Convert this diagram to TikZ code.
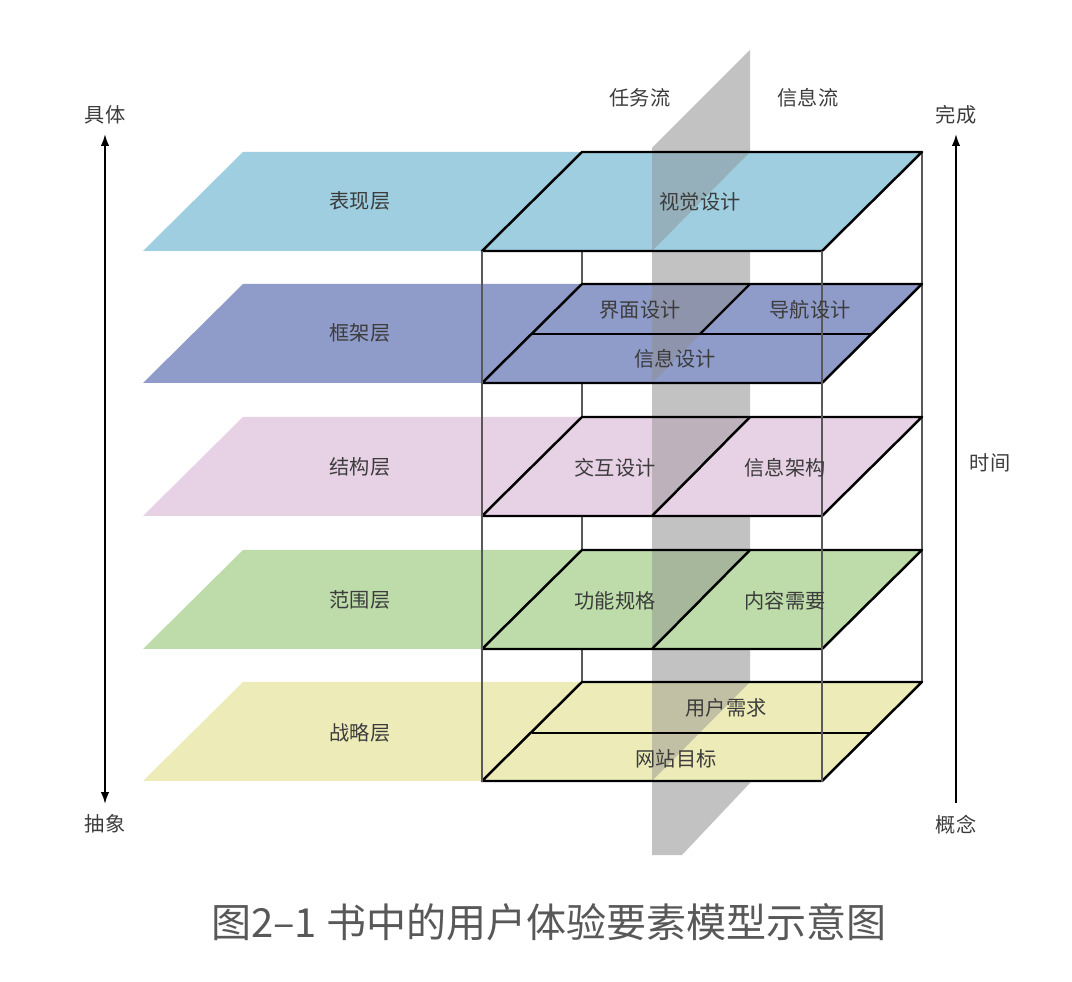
\documentclass[tikz,border=0pt]{standalone}
\usepackage{fontspec}
\newfontfamily\cjk{Noto Sans CJK SC}
\usetikzlibrary{arrows.meta}
\definecolor{surfacec}{RGB}{158,206,224}
\definecolor{skeletonc}{RGB}{143,155,200}
\definecolor{structurec}{RGB}{231,209,229}
\definecolor{scopec}{RGB}{189,220,170}
\definecolor{strategyc}{RGB}{237,236,184}
\definecolor{planec}{RGB}{194,194,194}
\definecolor{textc}{RGB}{60,60,60}
\definecolor{captionc}{RGB}{88,88,88}
\tikzset{
  plate/.style={line width=1.4pt, draw=black, line join=round},
  boxedge/.style={line width=0.8pt, draw=black!65},
  shadow/.style={fill=black!45, fill opacity=0.45},
  lbl/.style={font=\cjk\fontsize{11.5}{13}\selectfont, text=textc, inner sep=0pt},
  axis/.style={line width=1.1pt, draw=black, >={Latex[length=2.4mm,width=1.7mm]}}
}
\begin{document}
\begin{tikzpicture}[x=0.02cm,y=-0.02cm]
\useasboundingbox (0,0) rectangle (1072,982);
% the vertical plane between the two flows
\fill[planec] (652,148) -- (750,50) -- (750,783) -- (682,855) -- (652,855) -- cycle;
% back edges of the box
\draw[boxedge] (582,152) -- (582,682);
\draw[boxedge] (922,152) -- (922,682);
% five layers
\foreach \t/\c in {152/surfacec,284/skeletonc,417/structurec,550/scopec,682/strategyc}{
  \pgfmathsetmacro\bt{\t+99}
  \fill[\c] (143,\bt) -- (243,\t) -- (922,\t) -- (822,\bt) -- cycle;
  \fill[shadow] (652,\t) -- (750,\t) -- (652,\bt) -- cycle;
  \draw[plate] (482,\bt) -- (582,\t) -- (922,\t) -- (822,\bt) -- cycle;
}
% dividers inside the layers
\draw[plate] (750,284) -- (700,334);
\draw[plate] (532,334) -- (872,334);
\draw[plate] (750,417) -- (652,516);
\draw[plate] (750,550) -- (652,649);
\draw[plate] (532,733) -- (872,733);
% front edges of the box
\draw[boxedge] (482,251) -- (482,782);
\draw[boxedge] (822,251) -- (822,782);

% layer names
\node[lbl] (surface) at (360,201) {表现层};
\node[lbl] (skeleton) at (360,333) {框架层};
\node[lbl] (structure) at (360,467) {结构层};
\node[lbl] (scope) at (360,600) {范围层};
\node[lbl] (strategy) at (360,733) {战略层};
% elements
\node[lbl] (visual) at (700,202) {视觉设计};
\node[lbl] (interface) at (640,310) {界面设计};
\node[lbl] (navigation) at (810,310) {导航设计};
\node[lbl] (infodesign) at (675,359) {信息设计};
\node[lbl] (interaction) at (615,468) {交互设计};
\node[lbl] (infoarch) at (785,468) {信息架构};
\node[lbl] (funcspec) at (615,601) {功能规格};
\node[lbl] (content) at (785,601) {内容需要};
\node[lbl] (userneed) at (726,708) {用户需求};
\node[lbl] (siteobj) at (676,759) {网站目标};
% flows
\node[lbl] (taskflow) at (640,98) {任务流};
\node[lbl] (infoflow) at (808,98) {信息流};

% left axis
\node[lbl] (concrete) at (105,115) {具体};
\node[lbl] (abstract) at (105,824) {抽象};
\coordinate (lefttop) at (105,134);
\coordinate (leftbot) at (105,804);
\draw[axis,<->] (lefttop) -- (leftbot);
% right axis
\node[lbl] (done) at (956,115) {完成};
\node[lbl] (concept) at (956,825) {概念};
\node[lbl] (time) at (990,463) {时间};
\coordinate (righttop) at (956,134);
\coordinate (rightbot) at (956,803);
\draw[axis,->] (rightbot) -- (righttop);

\node[font=\cjk\fontsize{22.8}{27}\selectfont, text=captionc, inner sep=0pt] (caption) at (549,922) {图2–1 书中的用户体验要素模型示意图};
\end{tikzpicture}
\end{document}
